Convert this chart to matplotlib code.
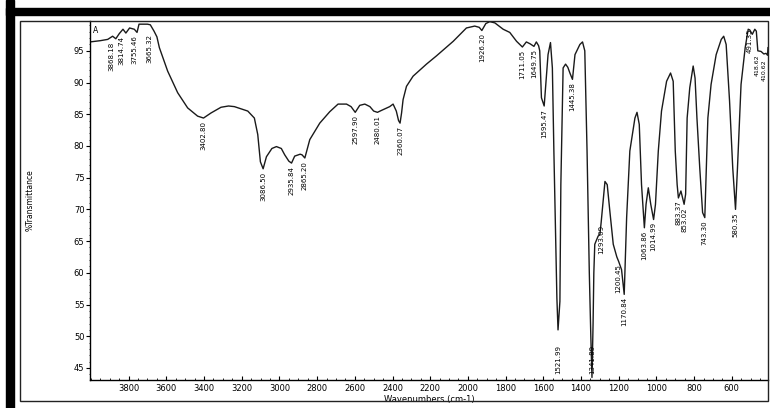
import numpy as np
import matplotlib
matplotlib.use("Agg")
import matplotlib.pyplot as plt
from matplotlib.patches import Rectangle
from matplotlib.ticker import MultipleLocator

# ---- data ----
wavenumber = [4005, 3950, 3911, 3885, 3868.1, 3850, 3830, 3814.7, 3795, 3770, 3755.46,
              3745, 3700, 3685, 3665.3, 3650, 3637, 3593, 3540, 3487, 3434, 3402.8,
              3363, 3310, 3270, 3239, 3168, 3133, 3115, 3101, 3086.5, 3069, 3040, 3016,
              2990, 2972, 2950, 2935.8, 2919, 2890, 2880, 2865.2, 2839, 2786, 2733, 2689,
              2644, 2620, 2597.9, 2574, 2547, 2520, 2500, 2480, 2459, 2415, 2397, 2380,
              2368, 2360.07, 2352, 2344, 2326, 2291, 2220, 2167, 2078, 2008, 1964, 1940,
              1926.2, 1905, 1884, 1857, 1813, 1778, 1742, 1725, 1711.05, 1690, 1670,
              1649.75, 1637, 1625, 1619, 1610, 1595.47, 1587, 1575, 1562, 1552, 1544,
              1535, 1528, 1521.99, 1512, 1507, 1495, 1482, 1470, 1459, 1445.38, 1432,
              1406, 1392, 1380, 1368, 1356, 1348, 1341.89, 1336, 1332, 1327, 1309, 1300,
              1293, 1273, 1261, 1247, 1229, 1210, 1200.45, 1185, 1170.84, 1158, 1141,
              1114, 1103, 1091, 1079, 1063.86, 1055, 1043, 1030, 1014.99, 1005, 990, 973,
              946, 925, 911, 900, 890, 883.37, 870, 853.02, 845, 837, 823, 805, 795, 785,
              770, 755, 743.3, 735, 727, 710, 683, 656, 643, 630, 612, 595, 580.35, 570,
              551, 529, 520, 513, 505, 491.35, 478, 470, 462, 445, 430, 418.6, 410.6, 408]
transmittance = [96.4, 96.6, 96.8, 97.3, 96.9, 97.7, 98.4, 97.8, 98.6, 98.4, 97.9,
                 99.2, 99.2, 99.1, 98.1, 97.2, 95.5, 91.8, 88.4, 86.0, 84.7, 84.4,
                 85.2, 86.1, 86.3, 86.2, 85.5, 84.4, 81.8, 77.5, 76.4, 78.3, 79.6, 79.9,
                 79.6, 78.6, 77.6, 77.3, 78.4, 78.7, 78.6, 78.1, 81.0, 83.6, 85.4, 86.6,
                 86.6, 86.2, 85.3, 86.4, 86.6, 86.2, 85.5, 85.3, 85.6, 86.2, 86.6, 85.5,
                 84.0, 83.6, 85.2, 87.3, 89.4, 91.0, 92.9, 94.2, 96.5, 98.6, 98.9, 98.7,
                 98.2, 99.3, 99.6, 99.4, 98.4, 97.9, 96.5, 96.0, 95.6, 96.4, 96.1,
                 95.7, 96.4, 95.8, 95.0, 87.6, 86.3, 89.7, 94.4, 96.3, 92.3, 79.2,
                 66.0, 56.0, 51.0, 55.5, 73.9, 92.3, 92.9, 92.4, 91.5, 90.5, 94.4,
                 96.0, 96.4, 95.0, 79.2, 60.0, 50.0, 43.5, 52.0, 60.0, 64.5, 65.8, 66.0,
                 68.0, 74.4, 73.9, 69.7, 64.5, 62.5, 61.8, 60.5, 56.6, 68.7, 79.2,
                 84.4, 85.3, 83.4, 73.9, 67.1, 70.8, 73.4, 70.8, 68.4, 70.8, 79.2, 85.5,
                 90.2, 91.5, 90.2, 79.2, 73.9, 71.8, 72.9, 70.8, 72.4, 84.4, 89.2, 92.6, 90.7, 84.4,
                 76.5, 69.5, 68.7, 76.5, 84.4, 89.7, 94.4, 96.8, 97.3, 96.0, 87.1, 76.5, 70.0, 76.5,
                 89.7, 95.5, 97.1, 98.4, 98.3, 97.6, 98.4, 98.1, 95.0, 94.9, 94.5, 94.6, 94.3, 95.5]

peak_positions = [3868.18, 3814.74, 3755.46, 3665.32, 3402.80, 3086.50, 2935.84, 2865.20,
                  2597.90, 2480.01, 2360.07, 1926.20, 1711.05, 1649.75, 1595.47, 1521.99,
                  1445.38, 1341.89, 1293.09, 1200.45, 1170.84, 1063.86, 1014.99, 883.37,
                  853.02, 743.30, 580.35, 491.35, 418.62, 410.62]
peak_labels = ["3868.18", "3814.74", "3755.46", "3665.32", "3402.80", "3086.50", "2935.84",
               "2865.20", "2597.90", "2480.01", "2360.07", "1926.20", "1711.05", "1649.75",
               "1595.47", "1521.99", "1445.38", "1341.89", "1293.09", "1200.45", "1170.84",
               "1063.86", "1014.99", "883.37", "853.02", "743.30", "580.35", "491.35",
               "418.62", "410.62"]
bottom_labels = {"1521.99", "1341.89"}

x_ticks = [3800, 3600, 3400, 3200, 3000, 2800, 2600, 2400, 2200, 2000, 1800, 1600,
           1400, 1200, 1000, 800, 600]
y_ticks = [45, 50, 55, 60, 65, 70, 75, 80, 85, 90, 95]

# label nudges (points) to keep crowded labels apart, as in the reference
label_nudge = {"3868.18": (-3, -2), "3814.74": (-3, -2), "3755.46": (-2, -2),
               "3665.32": (-3, -2), "491.35": (-2, 4), "418.62": (-6.5, -1),
               "410.62": (-2.5, -3)}

# ---- figure ----
W, H = 770, 408
fig = plt.figure(figsize=(W / 100, H / 100), dpi=100)
fig.patch.set_facecolor("white")

def fx(px):
    return px / W

def fy(py):
    return 1 - py / H

# outer black frame (scan border)
fig.add_artist(Rectangle((fx(6), 0), fx(8), 1, transform=fig.transFigure,
                         color="black", zorder=0))
fig.add_artist(Rectangle((fx(6), fy(15)), 1, 7 / H, transform=fig.transFigure,
                         color="black", zorder=0))
# inner panel border
fig.add_artist(Rectangle((fx(20), fy(401)), fx(748), (401 - 21) / H,
                         transform=fig.transFigure, fill=False, edgecolor="#222222",
                         linewidth=1.0, zorder=1))

ax = fig.add_axes([fx(90), fy(380), fx(768 - 90), (380 - 21) / H])
ax.plot(wavenumber, transmittance, color="#1a1a1a", linewidth=1.0)
ax.set_xlim(4005, 408)
ax.set_ylim(43.1, 99.7)

for s in ["top", "right"]:
    ax.spines[s].set_visible(False)
ax.spines["left"].set_linewidth(1.0)
ax.spines["bottom"].set_linewidth(1.0)

ax.set_xticks(x_ticks)
ax.set_xticklabels([str(t) for t in x_ticks])
ax.set_yticks(y_ticks)
ax.set_yticklabels([str(t) for t in y_ticks])
ax.xaxis.set_minor_locator(MultipleLocator(50))
ax.yaxis.set_minor_locator(MultipleLocator(1))
ax.tick_params(axis="x", which="major", direction="in", length=3, width=0.8,
               labelsize=6, pad=3)
ax.tick_params(axis="x", which="minor", direction="in", length=1.5, width=0.6)
ax.tick_params(axis="y", which="major", direction="out", length=3, width=0.8,
               labelsize=6, pad=1)
ax.tick_params(axis="y", which="minor", direction="out", length=1, width=0.5)

ax.set_xlabel("Wavenumbers (cm-1)", fontsize=6, labelpad=1)
fig.text(fx(30), fy(200), "%Transmittance", rotation=90, fontsize=5.5,
         ha="center", va="center")
ax.text(0.005, 0.985, "A", transform=ax.transAxes, fontsize=5.5, ha="left", va="top")

# peak labels
wn = np.array(wavenumber)[::-1]
tr = np.array(transmittance)[::-1]
fam = ["Liberation Sans Narrow", "DejaVu Sans"]
for pos, lab in zip(peak_positions, peak_labels):
    if lab in bottom_labels:
        ax.text(pos, 44.0, lab, rotation=90, fontsize=5, ha="center", va="bottom",
                family=fam)
    else:
        yv = np.interp(pos, wn, tr)
        dx, dy = label_nudge.get(lab, (0, -2))
        ax.annotate(lab, (pos, yv), xytext=(dx, dy), textcoords="offset points",
                    rotation=90, fontsize=5 if lab not in ("418.62", "410.62") else 4.5,
                    ha="center", va="top", family=fam)

fig.savefig("out.png", dpi=100, facecolor="white")
